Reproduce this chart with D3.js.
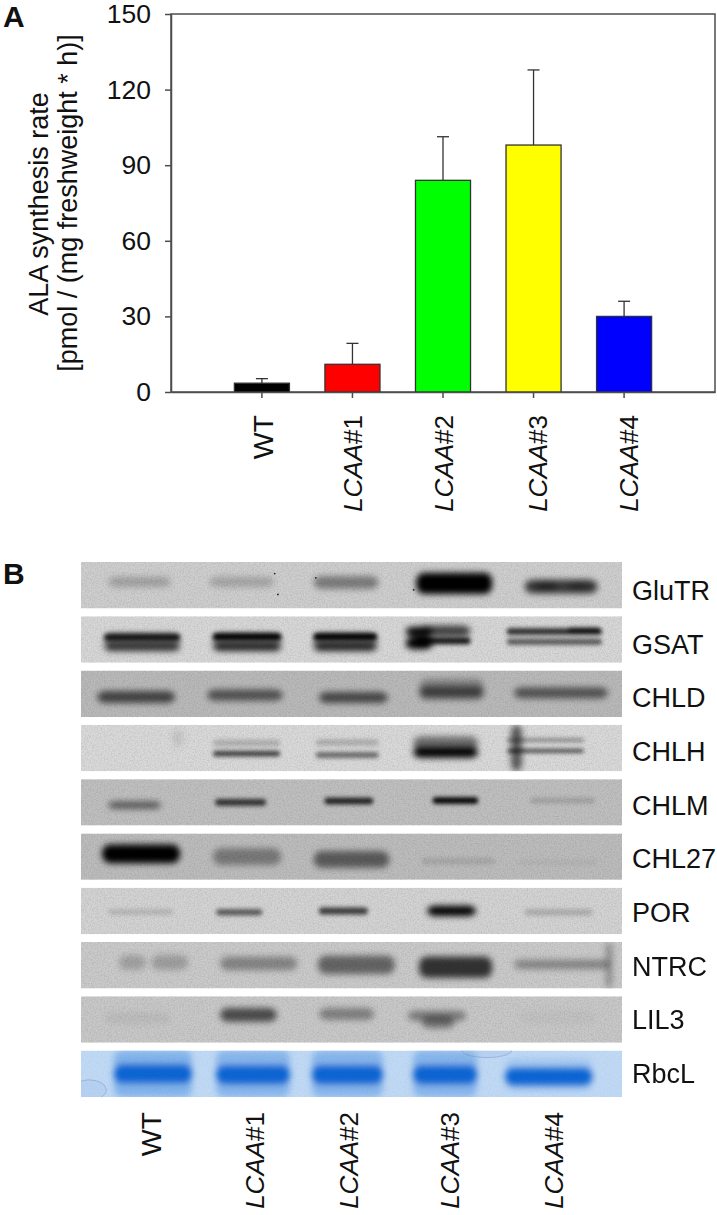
<!DOCTYPE html>
<html>
<head>
<meta charset="utf-8">
<script src="https://cdnjs.cloudflare.com/ajax/libs/d3/7.8.5/d3.min.js"></script>
<style>
  html, body { margin: 0; padding: 0; background: #fff; }
  text { font-family: "Liberation Sans", Arial, sans-serif; fill: #111; }
  .axis path, .axis line { stroke: #4d4d4d; stroke-width: 1.5; }
  .axis text { font-size: 26.5px; }
</style>
</head>
<body>
<svg id="chart" width="717" height="1215"></svg>
<script>
const w = 717, h = 1215;

// panel A
const lines = ['WT', 'LCAA#1', 'LCAA#2', 'LCAA#3', 'LCAA#4'];
const rates = [3.5, 11, 84, 98, 30];
const errorTops = [5.3, 19.3, 101.3, 127.8, 36];
const barColors = ['#000000', '#ff0000', '#00ff00', '#ffff00', '#0000ff'];
const rateTicks = [0, 30, 60, 90, 120, 150];

// panel B, read in percent of the strip: [from, to, migration, thickness, darkness]
const proteins = ['GluTR', 'GSAT', 'CHLD', 'CHLH', 'CHLM', 'CHL27', 'POR', 'NTRC', 'LIL3', 'RbcL'];
const stripGreys = ['#cfcfcf', '#d8d8d8', '#bababa', '#dadada', '#c0c0c0', '#bdbdbd', '#d4d4d4', '#cbcbcb', '#c9c9c9', '#c0d9f5'];
const laneCentres = [13, 32, 49.3, 68, 87.3];

const gluTR = [[5,16.6,43,22,.22],[23.7,35.7,43,22,.2],[43,55,44,28,.4],[62,76,46,46,1],[62,76,46,34,1],
  [82,95.5,53,30,.72],[84,88,52,20,.4],[90,94,52,20,.3]];
const gsat = [[4.3,18.3,45,15,.85],[4.3,18.3,66,18,.65],[4.3,18.3,55,38,.42],
  [24.4,37,44,15,1],[24.4,37,66,18,.75],[24.4,37,55,38,.42],
  [43,54.7,44,15,1],[43,54.7,66,18,.75],[43,54.7,55,38,.45],
  [60,65,33,20,1],[60,65,58,26,1],[62,72,32,24,.7],[62,72,53,15,.9],
  [78.7,96.3,33,14,.8],[90,96,30,12,.8],[78.7,96.3,55,13,.6]];
const chld = [[3,17.4,57,26,.64],[23.3,37.3,53,24,.56],[44,56.7,58,24,.62],[62.5,74.5,48,28,.55],[62.5,74.5,35,36,.28],[80,97.4,48,24,.55]];
const chlh = [[17,18.8,28,40,.1],[24.4,36.8,62,11,.75],[24.4,36.8,39,14,.2],[43.4,55,65,12,.55],[43.4,55,38,14,.2],
  [61.4,73.4,60,22,1],[61.4,73.4,40,30,.5],[78.7,93,56,7,.8],[78.7,93,33,7,.45],[79.5,81.5,50,100,.6]];
const chlm = [[5,14.8,56,16,.55],[24.8,34.2,50,15,.75],[45,54,47,14,.85],[65,73.4,46,14,1],[83,95,46,12,.16]];
const chl27 = [[3.9,18.3,44,40,1],[24.4,37,50,36,.36],[43,57,56,36,.52],[63,76.5,60,15,.11],[80.8,95.6,62,12,.05]];
const por = [[5,17,52,12,.14],[25,33.5,53,13,.6],[44,53,50,15,.72],[64,73,50,22,1],[82,94.5,53,14,.18]];
const ntrc = [[7,12,44,32,.2],[13,19.8,44,32,.22],[25.7,40,46,30,.34],[43.8,58,49,40,.5],[62.5,76,54,46,.75],[80,97.8,48,20,.34],[97,98.2,50,100,.3]];
const lil3 = [[4.4,16.5,47,25,.06],[25.7,36.2,40,30,.62],[44,54.2,38,26,.36],[60.4,71.2,42,22,.38],[63,69,56,26,.42],[80.8,95.2,45,30,.03]];
const rbcLWash = [[6.1,20.5,50,100,.75],[25,38.6,50,100,.7],[42.7,55.8,50,100,.7],[61.4,73.2,50,100,.7],[78.4,94.5,52,70,.35]];
const rbcL = [[6.1,20.5,50,42,1],[25,38.6,52,42,1],[42.7,55.8,52,42,1],[61.4,73.2,52,42,1],[78.4,94.5,56,38,1]];
const stripBands = [gluTR, gsat, chld, chlh, chlm, chl27, por, ntrc, lil3, rbcL];

// dust specks on the GluTR strip: [from, migration]
const gluTRSpecks = [[35.8, 25], [36.4, 70], [43.4, 34], [61.5, 60]];
// air bubbles on the RbcL strip: [centre, migration, radius across, radius along]
const rbcLBubbles = [[1.5, 85, 3.2, 22], [75, 0, 4.6, 15]];

const margins = { top: 14, right: 2, bottom: 823, left: 171 };
const labelShift = [1, 0, 0, 3, 4];
const chart = d3.select('#chart');

const defs = chart.append('defs');
function addBlur(id, amount) {
  defs.append('filter').attr('id', id)
    .attr('filterUnits', 'userSpaceOnUse')
    .attr('x', 0).attr('y', 0).attr('width', w).attr('height', h)
    .append('feGaussianBlur').attr('stdDeviation', amount);
}
addBlur('blurThin', 2.2);
addBlur('blurWide', 3.2);
const grain = defs.append('filter').attr('id', 'grain')
  .attr('filterUnits', 'userSpaceOnUse')
  .attr('x', 0).attr('y', 0).attr('width', w).attr('height', h);
grain.append('feTurbulence').attr('type', 'fractalNoise').attr('baseFrequency', 0.7).attr('numOctaves', 2).attr('seed', 4);
grain.append('feColorMatrix').attr('values', '0 0 0 0 0  0 0 0 0 0  0 0 0 0 0  0.7 0 0 0 -0.25');

// ---- A: bars
const xScale = d3.scaleBand()
  .domain(lines)
  .range([margins.left, w - margins.right])
  .paddingInner(0.392)
  .paddingOuter(0.7);

const yScale = d3.scaleLinear()
  .domain([0, 150])
  .range([h - margins.bottom, margins.top]);

chart.append('rect')
  .attr('x', margins.left).attr('y', margins.top)
  .attr('width', w - margins.left - margins.right)
  .attr('height', h - margins.top - margins.bottom)
  .attr('fill', 'none').attr('stroke', '#4d4d4d').attr('stroke-width', 1.5);

// error bars go up only
const errors = chart.append('g').attr('stroke', '#333').attr('stroke-width', 1.3);
errors.selectAll('line.stem').data(lines).join('line')
  .attr('class', 'stem')
  .attr('x1', d => xScale(d) + xScale.bandwidth() / 2)
  .attr('x2', d => xScale(d) + xScale.bandwidth() / 2)
  .attr('y1', (d, i) => yScale(rates[i]))
  .attr('y2', (d, i) => yScale(errorTops[i]));
errors.selectAll('line.cap').data(lines).join('line')
  .attr('class', 'cap')
  .attr('x1', d => xScale(d) + xScale.bandwidth() / 2 - 6)
  .attr('x2', d => xScale(d) + xScale.bandwidth() / 2 + 6)
  .attr('y1', (d, i) => yScale(errorTops[i]))
  .attr('y2', (d, i) => yScale(errorTops[i]));

chart.append('g').selectAll('rect').data(lines).join('rect')
  .attr('x', d => xScale(d))
  .attr('y', (d, i) => yScale(rates[i]))
  .attr('width', xScale.bandwidth())
  .attr('height', (d, i) => yScale(0) - yScale(rates[i]))
  .attr('fill', (d, i) => barColors[i])
  .attr('stroke', '#333').attr('stroke-width', 1.3);

chart.append('g')
  .attr('class', 'axis')
  .attr('transform', `translate(${margins.left}, 0)`)
  .call(d3.axisLeft(yScale).tickValues(rateTicks).tickSize(6).tickPadding(14).tickSizeOuter(0));

const xAxisGroup = chart.append('g')
  .attr('class', 'axis')
  .attr('transform', `translate(0, ${yScale(0)})`)
  .call(d3.axisBottom(xScale).tickSize(6).tickSizeOuter(0));
xAxisGroup.selectAll('text').remove();

// italic line name, plain number
function lineLabel(sel) {
  sel.attr('font-size', d => d === 'WT' ? 28.5 : 26)
    .each(function (d) {
      const t = d3.select(this);
      if (d === 'WT') { t.text(d); return; }
      t.append('tspan').attr('font-style', 'italic').text('LCAA');
      t.append('tspan').text(d.slice(4));
    });
}

chart.append('g').selectAll('text').data(lines).join('text')
  .attr('transform', (d, i) => `translate(${xScale(d) + xScale.bandwidth() / 2 + 10 + labelShift[i]}, 415) rotate(-90)`)
  .attr('text-anchor', 'end')
  .call(lineLabel);

chart.append('text')
  .attr('transform', 'translate(48, 204) rotate(-90)')
  .attr('text-anchor', 'middle').attr('font-size', 27)
  .text('ALA synthesis rate');
chart.append('text')
  .attr('transform', 'translate(77, 203) rotate(-90)')
  .attr('text-anchor', 'middle').attr('font-size', 27)
  .text('[pmol / (mg freshweight * h)]');

chart.append('text').attr('x', 3).attr('y', 27)
  .attr('font-size', 30).attr('font-weight', 'bold').text('A');
chart.append('text').attr('x', 3).attr('y', 584)
  .attr('font-size', 30).attr('font-weight', 'bold').text('B');

// ---- B: blot strips
const stripY = d3.scaleBand()
  .domain(proteins)
  .range([562, 1097])
  .paddingInner(0.145)
  .paddingOuter(0);

const labelY = d3.scalePoint()
  .domain(proteins)
  .range([600, 1083]);

const gelX = d3.scaleLinear().domain([0, 100]).range([81, 622]);
const gelY = d3.scaleLinear().domain([0, 100]).range([0, stripY.bandwidth()]);

proteins.forEach((name, i) => {
  const clipId = `clip-${name}`;
  defs.append('clipPath').attr('id', clipId)
    .append('rect')
    .attr('x', gelX(0)).attr('y', 0)
    .attr('width', gelX(100) - gelX(0)).attr('height', stripY.bandwidth());

  const strip = chart.append('g')
    .attr('transform', `translate(0, ${stripY(name)})`)
    .attr('clip-path', `url(#${clipId})`);

  strip.append('rect')
    .attr('x', gelX(0)).attr('y', 0)
    .attr('width', gelX(100) - gelX(0)).attr('height', stripY.bandwidth())
    .attr('fill', stripGreys[i]);

  const isStain = name === 'RbcL';
  const wideGroup = strip.append('g').attr('filter', 'url(#blurWide)');
  const thinGroup = strip.append('g').attr('filter', 'url(#blurThin)');

  function drawBands(rows, color) {
    rows.forEach(b => {
      const group = b[3] < 16 ? thinGroup : wideGroup;
      group.append('rect')
        .attr('x', gelX(b[0]))
        .attr('y', gelY(b[2] - b[3] / 2))
        .attr('width', gelX(b[1]) - gelX(b[0]))
        .attr('height', gelY(b[3]))
        .attr('rx', b[3] < 16 ? 3 : 8)
        .attr('fill', color)
        .attr('opacity', b[4]);
    });
  }

  if (isStain) drawBands(rbcLWash, '#6fa8e8');
  drawBands(stripBands[i], isStain ? '#0766d4' : '#000');

  strip.append('rect')
    .attr('x', gelX(0)).attr('y', 0)
    .attr('width', gelX(100) - gelX(0)).attr('height', stripY.bandwidth())
    .attr('fill', '#000')
    .attr('opacity', isStain ? 0.1 : 0.3)
    .attr('filter', 'url(#grain)');

  if (name === 'GluTR') {
    strip.selectAll('circle').data(gluTRSpecks).join('circle')
      .attr('cx', d => gelX(d[0]))
      .attr('cy', d => gelY(d[1]))
      .attr('r', 0.9)
      .attr('fill', '#222');
  }
  if (isStain) {
    strip.selectAll('ellipse').data(rbcLBubbles).join('ellipse')
      .attr('cx', d => gelX(d[0]))
      .attr('cy', d => gelY(d[1]))
      .attr('rx', d => gelX(d[2]) - gelX(0))
      .attr('ry', d => gelY(d[3]))
      .attr('fill', '#8fb4e4').attr('fill-opacity', 0.2)
      .attr('stroke', '#6f8fb8').attr('stroke-opacity', 0.4);
  }

  chart.append('text')
    .attr('x', 632)
    .attr('y', labelY(name))
    .attr('font-size', 27)
    .text(name);
});

chart.append('g').selectAll('text').data(lines).join('text')
  .attr('transform', (d, i) => `translate(${gelX(laneCentres[i]) + 10}, 1112) rotate(-90)`)
  .attr('text-anchor', 'end')
  .call(lineLabel);
</script>
</body>
</html>
